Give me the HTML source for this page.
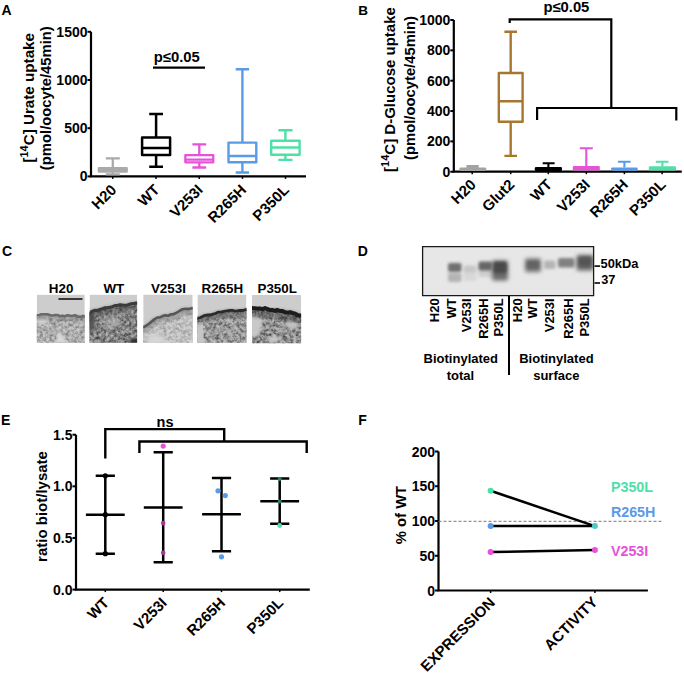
<!DOCTYPE html>
<html><head><meta charset="utf-8"><style>
html,body{margin:0;padding:0;background:#fff;width:684px;height:674px;overflow:hidden}
svg{display:block}
text{font-family:"Liberation Sans", sans-serif}
</style></head><body>
<svg width="684" height="674" viewBox="0 0 684 674">
<rect width="684" height="674" fill="#fff"/>
<defs>
<filter id="tex" x="0" y="0" width="1" height="1" filterUnits="objectBoundingBox" color-interpolation-filters="sRGB">
  <feTurbulence type="fractalNoise" baseFrequency="0.3" numOctaves="3" seed="7" result="n"/>
  <feColorMatrix type="matrix" in="n" result="m" values="0 0 0 0 0  0 0 0 0 0  0 0 0 0 0  2.2 0 0 0 -0.75"/>
  <feComposite in="SourceGraphic" in2="m" operator="in"/>
</filter>
<filter id="texL" x="0" y="0" width="1" height="1" filterUnits="objectBoundingBox" color-interpolation-filters="sRGB">
  <feTurbulence type="fractalNoise" baseFrequency="0.32" numOctaves="3" seed="11" result="n"/>
  <feColorMatrix type="matrix" in="n" result="m" values="0 0 0 0 0  0 0 0 0 0  0 0 0 0 0  2.6 0 0 0 -1.0"/>
  <feComposite in="SourceGraphic" in2="m" operator="in"/>
</filter>
<filter id="b05" x="-5%" y="-5%" width="110%" height="110%"><feGaussianBlur stdDeviation="0.5"/></filter>
<filter id="b06" x="-20%" y="-20%" width="140%" height="140%"><feGaussianBlur stdDeviation="0.6"/></filter>
<filter id="b1" x="-50%" y="-50%" width="200%" height="200%"><feGaussianBlur stdDeviation="1"/></filter>
<filter id="b15" x="-50%" y="-50%" width="200%" height="200%"><feGaussianBlur stdDeviation="1.5"/></filter>
<filter id="b2" x="-50%" y="-50%" width="200%" height="200%"><feGaussianBlur stdDeviation="2"/></filter>
<filter id="b3" x="-50%" y="-50%" width="200%" height="200%"><feGaussianBlur stdDeviation="3"/></filter>
<clipPath id="c0"><rect x="36.8" y="294.6" width="48" height="48.1"/></clipPath>
<clipPath id="c1"><rect x="89.5" y="294.6" width="47.6" height="48.1"/></clipPath>
<clipPath id="c2"><rect x="143.2" y="294.5" width="49.5" height="48.2"/></clipPath>
<clipPath id="c3"><rect x="197.4" y="294.5" width="49.1" height="48.2"/></clipPath>
<clipPath id="c4"><rect x="252" y="295" width="49.1" height="48.2"/></clipPath>
<clipPath id="cb"><rect x="422.6" y="246.6" width="171" height="49"/></clipPath>
</defs>

<text x="1.5" y="14.8" font-size="14" text-anchor="start" font-weight="bold" fill="#000" >A</text>
<path d="M91,31.8V176.4H306" stroke="#000" stroke-width="2.2" fill="none" />
<line x1="87.5" y1="31.8" x2="91" y2="31.8" stroke="#000" stroke-width="2" />
<text x="87.5" y="36.8" font-size="14" text-anchor="end" font-weight="bold" fill="#000" >1500</text>
<line x1="87.5" y1="80.0" x2="91" y2="80.0" stroke="#000" stroke-width="2" />
<text x="87.5" y="85.0" font-size="14" text-anchor="end" font-weight="bold" fill="#000" >1000</text>
<line x1="87.5" y1="128.2" x2="91" y2="128.2" stroke="#000" stroke-width="2" />
<text x="87.5" y="133.2" font-size="14" text-anchor="end" font-weight="bold" fill="#000" >500</text>
<line x1="87.5" y1="176.4" x2="91" y2="176.4" stroke="#000" stroke-width="2" />
<text x="87.5" y="181.4" font-size="14" text-anchor="end" font-weight="bold" fill="#000" >0</text>
<text x="33.8" y="97.9" font-size="15.2" font-weight="bold" text-anchor="middle" transform="rotate(-90 33.8 97.8)">[<tspan font-size="11" dy="-6">14</tspan><tspan dy="6">C] Urate uptake</tspan></text>
<text x="51" y="98.2" font-size="14.8" text-anchor="middle" font-weight="bold" fill="#000" transform="rotate(-90 51 98.2)" >(pmol/oocyte/45min)</text>
<line x1="112.7" y1="176.4" x2="112.7" y2="178.9" stroke="#000" stroke-width="1.5" />
<line x1="156" y1="176.4" x2="156" y2="178.9" stroke="#000" stroke-width="1.5" />
<line x1="199.2" y1="176.4" x2="199.2" y2="178.9" stroke="#000" stroke-width="1.5" />
<line x1="242.5" y1="176.4" x2="242.5" y2="178.9" stroke="#000" stroke-width="1.5" />
<line x1="285.5" y1="176.4" x2="285.5" y2="178.9" stroke="#000" stroke-width="1.5" />
<rect x="98.5" y="168" width="28.6" height="4" fill="#bcbcbc"/>
<path d="M98.85000000000001,168.25H126.74999999999999V171.54999999999998H98.85000000000001Z M98.85000000000001,170H126.74999999999999 M112.8,168.25V158.4 M105.8,158.4H119.8 M112.8,171.54999999999998V174.4 M105.8,174.4H119.8" stroke="#aaaaaa" stroke-width="2.3" fill="none" stroke-linejoin="round"/>
<path d="M142.1,137.55H170.1V154.95H142.1Z M142.1,147.9H170.1 M156.1,137.55V114.1 M149.2,114.1H163.0 M156.1,154.95V166.8 M149.2,166.8H163.0" stroke="#000" stroke-width="2.5" fill="none" stroke-linejoin="round"/>
<path d="M185.35000000000002,155.15H213.25V162.35H185.35000000000002Z M185.35000000000002,159.6H213.25 M199.3,155.15V144.3 M192.4,144.3H206.20000000000002 M199.3,162.35V167.5 M192.4,167.5H206.20000000000002" stroke="#e652d8" stroke-width="2.3" fill="none" stroke-linejoin="round"/>
<path d="M228.5,142.6H256.3V162.20000000000002H228.5Z M228.5,156H256.3 M242.4,142.6V69.2 M235.70000000000002,69.2H249.1 M242.4,162.20000000000002V172.5 M235.70000000000002,172.5H249.1" stroke="#5a9be8" stroke-width="2.4" fill="none" stroke-linejoin="round"/>
<path d="M271.2,140.79999999999998H299.59999999999997V154.8H271.2Z M271.2,147.5H299.59999999999997 M285.4,140.79999999999998V130.3 M278.29999999999995,130.3H292.5 M285.4,154.8V159.9 M278.29999999999995,159.9H292.5" stroke="#4fe0a8" stroke-width="2.4" fill="none" stroke-linejoin="round"/>
<text x="153.8" y="61.6" font-size="14.8" text-anchor="start" font-weight="bold" fill="#000" >p≤0.05</text>
<line x1="153" y1="67.6" x2="205" y2="67.6" stroke="#000" stroke-width="2.2" />
<text x="117.3" y="190.8" font-size="15" text-anchor="end" font-weight="bold" fill="#000" transform="rotate(-45 117.3 190.8)" >H20</text>
<text x="160.6" y="190.8" font-size="15" text-anchor="end" font-weight="bold" fill="#000" transform="rotate(-45 160.6 190.8)" >WT</text>
<text x="203.79999999999998" y="190.8" font-size="15" text-anchor="end" font-weight="bold" fill="#000" transform="rotate(-45 203.79999999999998 190.8)" >V253I</text>
<text x="247.1" y="190.8" font-size="15" text-anchor="end" font-weight="bold" fill="#000" transform="rotate(-45 247.1 190.8)" >R265H</text>
<text x="290.1" y="190.8" font-size="15" text-anchor="end" font-weight="bold" fill="#000" transform="rotate(-45 290.1 190.8)" >P350L</text>
<text x="358.3" y="14.8" font-size="13.5" text-anchor="start" font-weight="bold" fill="#000" >B</text>
<path d="M453.8,20V171.7H681.8" stroke="#000" stroke-width="2.2" fill="none" />
<line x1="450.3" y1="20.0" x2="453.8" y2="20.0" stroke="#000" stroke-width="2" />
<text x="450.3" y="25.0" font-size="14" text-anchor="end" font-weight="bold" fill="#000" >1000</text>
<line x1="450.3" y1="50.35" x2="453.8" y2="50.35" stroke="#000" stroke-width="2" />
<text x="450.3" y="55.35" font-size="14" text-anchor="end" font-weight="bold" fill="#000" >800</text>
<line x1="450.3" y1="80.7" x2="453.8" y2="80.7" stroke="#000" stroke-width="2" />
<text x="450.3" y="85.7" font-size="14" text-anchor="end" font-weight="bold" fill="#000" >600</text>
<line x1="450.3" y1="111.05" x2="453.8" y2="111.05" stroke="#000" stroke-width="2" />
<text x="450.3" y="116.05" font-size="14" text-anchor="end" font-weight="bold" fill="#000" >400</text>
<line x1="450.3" y1="141.4" x2="453.8" y2="141.4" stroke="#000" stroke-width="2" />
<text x="450.3" y="146.4" font-size="14" text-anchor="end" font-weight="bold" fill="#000" >200</text>
<line x1="450.3" y1="171.75" x2="453.8" y2="171.75" stroke="#000" stroke-width="2" />
<text x="450.3" y="176.75" font-size="14" text-anchor="end" font-weight="bold" fill="#000" >0</text>
<text x="395.5" y="89.4" font-size="15" font-weight="bold" text-anchor="middle" transform="rotate(-90 395.5 89.5)">[<tspan font-size="11" dy="-6">14</tspan><tspan dy="6">C] D-Glucose uptake</tspan></text>
<text x="415" y="88" font-size="14.8" text-anchor="middle" font-weight="bold" fill="#000" transform="rotate(-90 415 88)" >(pmol/oocyte/45min)</text>
<line x1="472.2" y1="171.7" x2="472.2" y2="174.2" stroke="#000" stroke-width="1.5" />
<line x1="510.7" y1="171.7" x2="510.7" y2="174.2" stroke="#000" stroke-width="1.5" />
<line x1="548.3" y1="171.7" x2="548.3" y2="174.2" stroke="#000" stroke-width="1.5" />
<line x1="586.3" y1="171.7" x2="586.3" y2="174.2" stroke="#000" stroke-width="1.5" />
<line x1="624.4" y1="171.7" x2="624.4" y2="174.2" stroke="#000" stroke-width="1.5" />
<line x1="662.1" y1="171.7" x2="662.1" y2="174.2" stroke="#000" stroke-width="1.5" />
<rect x="459.4" y="167.4" width="26.8" height="3.6" rx="1.2" fill="#a3a3a3"/>
<path d="M472.8,167.4V166.4 M466.4,166.4H478.7" stroke="#a3a3a3" stroke-width="3" fill="none" />
<path d="M498.79999999999995,73.0H522.5999999999999V121.7H498.79999999999995Z M498.79999999999995,101.2H522.5999999999999 M510.7,73.0V31.8 M504.4,31.8H517.0 M510.7,121.7V155.9 M504.4,155.9H517.0" stroke="#a8772f" stroke-width="2.4" fill="none" stroke-linejoin="round"/>
<rect x="534.8" y="167" width="27.2" height="4" rx="1.2" fill="#000"/>
<path d="M548.4,167V163.2 M542.7,163.2H554.6" stroke="#000" stroke-width="2.1" fill="none" />
<rect x="572.8" y="165.9" width="27.0" height="4.5" rx="1.2" fill="#e652d8"/>
<path d="M586.3,165.9V148.3 M579.8,148.3H592.8" stroke="#e652d8" stroke-width="2.1" fill="none" />
<rect x="611.1" y="167.6" width="26.6" height="3.2" rx="1.2" fill="#5a9be8"/>
<path d="M624.4,167.6V161.7 M618,161.7H630.7" stroke="#5a9be8" stroke-width="2.1" fill="none" />
<rect x="648.8" y="166.2" width="27.2" height="4.2" rx="1.2" fill="#4fe0a8"/>
<path d="M662.4,166.2V161.7 M655.8,161.7H668.5" stroke="#4fe0a8" stroke-width="2.1" fill="none" />
<path d="M509.7,22.9V19.3H611.3V108" stroke="#000" stroke-width="2.2" fill="none" />
<path d="M537.1,120V108H676.3V120.4" stroke="#000" stroke-width="2.2" fill="none" />
<text x="543.4" y="12" font-size="14.8" text-anchor="start" font-weight="bold" fill="#000" >p≤0.05</text>
<text x="476.8" y="185.5" font-size="15" text-anchor="end" font-weight="bold" fill="#000" transform="rotate(-45 476.8 185.5)" >H20</text>
<text x="515.3" y="185.5" font-size="15" text-anchor="end" font-weight="bold" fill="#000" transform="rotate(-45 515.3 185.5)" >Glut2</text>
<text x="552.9" y="185.5" font-size="15" text-anchor="end" font-weight="bold" fill="#000" transform="rotate(-45 552.9 185.5)" >WT</text>
<text x="590.9" y="185.5" font-size="15" text-anchor="end" font-weight="bold" fill="#000" transform="rotate(-45 590.9 185.5)" >V253I</text>
<text x="629.0" y="185.5" font-size="15" text-anchor="end" font-weight="bold" fill="#000" transform="rotate(-45 629.0 185.5)" >R265H</text>
<text x="666.7" y="185.5" font-size="15" text-anchor="end" font-weight="bold" fill="#000" transform="rotate(-45 666.7 185.5)" >P350L</text>
<text x="2" y="256.2" font-size="14" text-anchor="start" font-weight="bold" fill="#000" >C</text>
<g filter="url(#b05)"><g clip-path="url(#c0)">
<rect x="36.8" y="294.6" width="48" height="48.1" fill="#cdcdcd"/>
<path d="M34.0,314.4 L36.8,315.3 L39.5,314.9 L42.2,313.9 L45.0,314.0 L47.5,314.3 L50.0,315.0 L52.5,315.6 L55.0,314.9 L57.5,314.9 L60.0,316.3 L62.5,315.8 L65.0,316.4 L67.5,315.1 L70.0,315.7 L72.5,316.0 L75.0,315.1 L77.8,316.6 L80.5,316.9 L83.2,315.9 L86,317 L86.8,344.70000000000005 L34.8,344.70000000000005Z" fill="#bdbdbd"/>
<path d="M34.0,314.4 L36.8,315.3 L39.5,314.9 L42.2,313.9 L45.0,314.0 L47.5,314.3 L50.0,315.0 L52.5,315.6 L55.0,314.9 L57.5,314.9 L60.0,316.3 L62.5,315.8 L65.0,316.4 L67.5,315.1 L70.0,315.7 L72.5,316.0 L75.0,315.1 L77.8,316.6 L80.5,316.9 L83.2,315.9 L86,317 L86.8,344.70000000000005 L34.8,344.70000000000005Z" fill="#404040" opacity="0.6" filter="url(#tex)"/>
<path d="M34.0,314.4 L36.8,315.3 L39.5,314.9 L42.2,313.9 L45.0,314.0 L47.5,314.3 L50.0,315.0 L52.5,315.6 L55.0,314.9 L57.5,314.9 L60.0,316.3 L62.5,315.8 L65.0,316.4 L67.5,315.1 L70.0,315.7 L72.5,316.0 L75.0,315.1 L77.8,316.6 L80.5,316.9 L83.2,315.9 L86,317 L86.8,344.70000000000005 L34.8,344.70000000000005Z" fill="#e4e4e4" opacity="0.5" filter="url(#texL)"/>
<ellipse cx="42" cy="321" rx="6" ry="3" fill="#d0d0d0" filter="url(#b1)"/><path d="M55,343 L60,330 L66,343Z" fill="#d8d8d8" filter="url(#b1)"/>
<path d="M34.0,314.4 L36.8,315.3 L39.5,314.9 L42.2,313.9 L45.0,314.0 L47.5,314.3 L50.0,315.0 L52.5,315.6 L55.0,314.9 L57.5,314.9 L60.0,316.3 L62.5,315.8 L65.0,316.4 L67.5,315.1 L70.0,315.7 L72.5,316.0 L75.0,315.1 L77.8,316.6 L80.5,316.9 L83.2,315.9 L86,317" stroke="#6a6a6a" stroke-width="6.5" opacity="0.35" fill="none" transform="translate(0,2.25)" filter="url(#b15)"/>
<path d="M34.0,314.4 L36.8,315.3 L39.5,314.9 L42.2,313.9 L45.0,314.0 L47.5,314.3 L50.0,315.0 L52.5,315.6 L55.0,314.9 L57.5,314.9 L60.0,316.3 L62.5,315.8 L65.0,316.4 L67.5,315.1 L70.0,315.7 L72.5,316.0 L75.0,315.1 L77.8,316.6 L80.5,316.9 L83.2,315.9 L86,317" stroke="#6a6a6a" stroke-width="2.5" fill="none" stroke-linejoin="round" filter="url(#b06)"/>
</g></g>
<g filter="url(#b05)"><g clip-path="url(#c1)">
<rect x="89.5" y="294.6" width="47.6" height="48.1" fill="#cdcdcd"/>
<path d="M87.0,314.7 L89.5,313.7 L92.0,311.3 L94.7,310.3 L97.3,310.5 L100.0,309.4 L102.5,308.8 L105.0,307.7 L107.5,307.7 L110.0,307.2 L112.5,306.6 L115.0,305.5 L117.5,305.4 L120.0,304.8 L122.5,305.1 L125.0,305.3 L127.5,305.0 L130.0,304.1 L133.0,303.6 L136.0,303.0 L139,303 L139.1,344.70000000000005 L87.5,344.70000000000005Z" fill="#8c8c8c"/>
<path d="M87.0,314.7 L89.5,313.7 L92.0,311.3 L94.7,310.3 L97.3,310.5 L100.0,309.4 L102.5,308.8 L105.0,307.7 L107.5,307.7 L110.0,307.2 L112.5,306.6 L115.0,305.5 L117.5,305.4 L120.0,304.8 L122.5,305.1 L125.0,305.3 L127.5,305.0 L130.0,304.1 L133.0,303.6 L136.0,303.0 L139,303 L139.1,344.70000000000005 L87.5,344.70000000000005Z" fill="#202020" opacity="0.72" filter="url(#tex)"/>
<path d="M87.0,314.7 L89.5,313.7 L92.0,311.3 L94.7,310.3 L97.3,310.5 L100.0,309.4 L102.5,308.8 L105.0,307.7 L107.5,307.7 L110.0,307.2 L112.5,306.6 L115.0,305.5 L117.5,305.4 L120.0,304.8 L122.5,305.1 L125.0,305.3 L127.5,305.0 L130.0,304.1 L133.0,303.6 L136.0,303.0 L139,303 L139.1,344.70000000000005 L87.5,344.70000000000005Z" fill="#e4e4e4" opacity="0.5" filter="url(#texL)"/>
<ellipse cx="135" cy="341" rx="5" ry="3" fill="#303030" filter="url(#b1)"/><ellipse cx="91" cy="322" rx="4" ry="10" fill="#555" filter="url(#b15)"/><ellipse cx="112" cy="322" rx="8" ry="5" fill="#c4c4c4" opacity="0.6" filter="url(#b2)"/>
<path d="M87.0,314.7 L89.5,313.7 L92.0,311.3 L94.7,310.3 L97.3,310.5 L100.0,309.4 L102.5,308.8 L105.0,307.7 L107.5,307.7 L110.0,307.2 L112.5,306.6 L115.0,305.5 L117.5,305.4 L120.0,304.8 L122.5,305.1 L125.0,305.3 L127.5,305.0 L130.0,304.1 L133.0,303.6 L136.0,303.0 L139,303" stroke="#3a3a3a" stroke-width="7.800000000000001" opacity="0.35" fill="none" transform="translate(0,2.7)" filter="url(#b15)"/>
<path d="M87.0,314.7 L89.5,313.7 L92.0,311.3 L94.7,310.3 L97.3,310.5 L100.0,309.4 L102.5,308.8 L105.0,307.7 L107.5,307.7 L110.0,307.2 L112.5,306.6 L115.0,305.5 L117.5,305.4 L120.0,304.8 L122.5,305.1 L125.0,305.3 L127.5,305.0 L130.0,304.1 L133.0,303.6 L136.0,303.0 L139,303" stroke="#3a3a3a" stroke-width="3" fill="none" stroke-linejoin="round" filter="url(#b06)"/>
</g></g>
<g filter="url(#b05)"><g clip-path="url(#c2)">
<rect x="143.2" y="294.5" width="49.5" height="48.2" fill="#cdcdcd"/>
<path d="M141.0,327.6 L143.5,327.1 L146.0,325.8 L149.0,323.7 L152.0,321.2 L154.7,319.0 L157.3,317.6 L160.0,317.5 L162.7,315.9 L165.3,315.2 L168.0,315.8 L170.7,314.3 L173.3,314.2 L176.0,313.0 L179.0,311.2 L182.5,309.2 L186.0,308.7 L189.0,308.9 L192.0,308.2 L195,308 L194.7,344.7 L141.2,344.7Z" fill="#cbcbcb"/>
<path d="M141.0,327.6 L143.5,327.1 L146.0,325.8 L149.0,323.7 L152.0,321.2 L154.7,319.0 L157.3,317.6 L160.0,317.5 L162.7,315.9 L165.3,315.2 L168.0,315.8 L170.7,314.3 L173.3,314.2 L176.0,313.0 L179.0,311.2 L182.5,309.2 L186.0,308.7 L189.0,308.9 L192.0,308.2 L195,308 L194.7,344.7 L141.2,344.7Z" fill="#505050" opacity="0.45" filter="url(#tex)"/>
<path d="M141.0,327.6 L143.5,327.1 L146.0,325.8 L149.0,323.7 L152.0,321.2 L154.7,319.0 L157.3,317.6 L160.0,317.5 L162.7,315.9 L165.3,315.2 L168.0,315.8 L170.7,314.3 L173.3,314.2 L176.0,313.0 L179.0,311.2 L182.5,309.2 L186.0,308.7 L189.0,308.9 L192.0,308.2 L195,308 L194.7,344.7 L141.2,344.7Z" fill="#e4e4e4" opacity="0.5" filter="url(#texL)"/>
<ellipse cx="155" cy="340" rx="9" ry="6" fill="#d6d6d6" filter="url(#b2)"/>
<path d="M141.0,327.6 L143.5,327.1 L146.0,325.8 L149.0,323.7 L152.0,321.2 L154.7,319.0 L157.3,317.6 L160.0,317.5 L162.7,315.9 L165.3,315.2 L168.0,315.8 L170.7,314.3 L173.3,314.2 L176.0,313.0 L179.0,311.2 L182.5,309.2 L186.0,308.7 L189.0,308.9 L192.0,308.2 L195,308" stroke="#555" stroke-width="6.5" opacity="0.35" fill="none" transform="translate(0,2.25)" filter="url(#b15)"/>
<path d="M141.0,327.6 L143.5,327.1 L146.0,325.8 L149.0,323.7 L152.0,321.2 L154.7,319.0 L157.3,317.6 L160.0,317.5 L162.7,315.9 L165.3,315.2 L168.0,315.8 L170.7,314.3 L173.3,314.2 L176.0,313.0 L179.0,311.2 L182.5,309.2 L186.0,308.7 L189.0,308.9 L192.0,308.2 L195,308" stroke="#555" stroke-width="2.5" fill="none" stroke-linejoin="round" filter="url(#b06)"/>
</g></g>
<g filter="url(#b05)"><g clip-path="url(#c3)">
<rect x="197.4" y="294.5" width="49.1" height="48.2" fill="#cdcdcd"/>
<path d="M195.0,319.1 L197.5,318.1 L200.0,317.8 L202.7,316.4 L205.3,315.3 L208.0,314.8 L210.5,315.0 L213.0,314.2 L215.5,313.5 L218.0,312.1 L221.0,312.2 L224.0,311.4 L227.0,310.9 L230.0,310.4 L232.5,310.3 L235.0,311.2 L237.5,310.8 L240.0,310.5 L243.0,310.5 L246.0,309.5 L249,310 L248.5,344.7 L195.4,344.7Z" fill="#ababab"/>
<path d="M195.0,319.1 L197.5,318.1 L200.0,317.8 L202.7,316.4 L205.3,315.3 L208.0,314.8 L210.5,315.0 L213.0,314.2 L215.5,313.5 L218.0,312.1 L221.0,312.2 L224.0,311.4 L227.0,310.9 L230.0,310.4 L232.5,310.3 L235.0,311.2 L237.5,310.8 L240.0,310.5 L243.0,310.5 L246.0,309.5 L249,310 L248.5,344.7 L195.4,344.7Z" fill="#282828" opacity="0.7" filter="url(#tex)"/>
<path d="M195.0,319.1 L197.5,318.1 L200.0,317.8 L202.7,316.4 L205.3,315.3 L208.0,314.8 L210.5,315.0 L213.0,314.2 L215.5,313.5 L218.0,312.1 L221.0,312.2 L224.0,311.4 L227.0,310.9 L230.0,310.4 L232.5,310.3 L235.0,311.2 L237.5,310.8 L240.0,310.5 L243.0,310.5 L246.0,309.5 L249,310 L248.5,344.7 L195.4,344.7Z" fill="#e4e4e4" opacity="0.5" filter="url(#texL)"/>
<path d="M196,322 L203,322 L204,345 L196,345Z" fill="#c6c6c6" filter="url(#b06)"/>
<path d="M195.0,319.1 L197.5,318.1 L200.0,317.8 L202.7,316.4 L205.3,315.3 L208.0,314.8 L210.5,315.0 L213.0,314.2 L215.5,313.5 L218.0,312.1 L221.0,312.2 L224.0,311.4 L227.0,310.9 L230.0,310.4 L232.5,310.3 L235.0,311.2 L237.5,310.8 L240.0,310.5 L243.0,310.5 L246.0,309.5 L249,310" stroke="#2a2a2a" stroke-width="7.279999999999999" opacity="0.35" fill="none" transform="translate(0,2.52)" filter="url(#b15)"/>
<path d="M195.0,319.1 L197.5,318.1 L200.0,317.8 L202.7,316.4 L205.3,315.3 L208.0,314.8 L210.5,315.0 L213.0,314.2 L215.5,313.5 L218.0,312.1 L221.0,312.2 L224.0,311.4 L227.0,310.9 L230.0,310.4 L232.5,310.3 L235.0,311.2 L237.5,310.8 L240.0,310.5 L243.0,310.5 L246.0,309.5 L249,310" stroke="#2a2a2a" stroke-width="2.8" fill="none" stroke-linejoin="round" filter="url(#b06)"/>
</g></g>
<g filter="url(#b05)"><g clip-path="url(#c4)">
<rect x="252" y="295" width="49.1" height="48.2" fill="#cdcdcd"/>
<path d="M250.0,307.7 L252.5,308.0 L255.0,308.2 L257.5,308.6 L260.0,308.4 L262.5,309.1 L265.0,308.0 L267.5,309.1 L270.0,310.2 L272.5,310.1 L275.0,310.9 L277.5,310.0 L280.0,311.0 L282.5,311.1 L285.0,312.1 L287.5,312.6 L290.0,312.2 L292.6,313.0 L295.2,313.6 L297.8,315.2 L300.4,315.4 L303,315.5 L303.1,345.2 L250,345.2Z" fill="#a2a2a2"/>
<path d="M250.0,307.7 L252.5,308.0 L255.0,308.2 L257.5,308.6 L260.0,308.4 L262.5,309.1 L265.0,308.0 L267.5,309.1 L270.0,310.2 L272.5,310.1 L275.0,310.9 L277.5,310.0 L280.0,311.0 L282.5,311.1 L285.0,312.1 L287.5,312.6 L290.0,312.2 L292.6,313.0 L295.2,313.6 L297.8,315.2 L300.4,315.4 L303,315.5 L303.1,345.2 L250,345.2Z" fill="#1a1a1a" opacity="0.72" filter="url(#tex)"/>
<path d="M250.0,307.7 L252.5,308.0 L255.0,308.2 L257.5,308.6 L260.0,308.4 L262.5,309.1 L265.0,308.0 L267.5,309.1 L270.0,310.2 L272.5,310.1 L275.0,310.9 L277.5,310.0 L280.0,311.0 L282.5,311.1 L285.0,312.1 L287.5,312.6 L290.0,312.2 L292.6,313.0 L295.2,313.6 L297.8,315.2 L300.4,315.4 L303,315.5 L303.1,345.2 L250,345.2Z" fill="#e4e4e4" opacity="0.5" filter="url(#texL)"/>
<path d="M250,316 Q258,314 262,320 Q262,330 257,336 L250,337Z" fill="#c8c8c8" filter="url(#b1)"/><ellipse cx="292" cy="325" rx="6" ry="4" fill="#c0c0c0" filter="url(#b1)"/><ellipse cx="274" cy="339" rx="5" ry="3.5" fill="#c4c4c4" filter="url(#b1)"/><path d="M275,311 L273,322" stroke="#c8c8c8" stroke-width="1.5" filter="url(#b06)"/>
<path d="M250.0,307.7 L252.5,308.0 L255.0,308.2 L257.5,308.6 L260.0,308.4 L262.5,309.1 L265.0,308.0 L267.5,309.1 L270.0,310.2 L272.5,310.1 L275.0,310.9 L277.5,310.0 L280.0,311.0 L282.5,311.1 L285.0,312.1 L287.5,312.6 L290.0,312.2 L292.6,313.0 L295.2,313.6 L297.8,315.2 L300.4,315.4 L303,315.5" stroke="#1a1a1a" stroke-width="10.4" opacity="0.35" fill="none" transform="translate(0,3.6)" filter="url(#b15)"/>
<path d="M250.0,307.7 L252.5,308.0 L255.0,308.2 L257.5,308.6 L260.0,308.4 L262.5,309.1 L265.0,308.0 L267.5,309.1 L270.0,310.2 L272.5,310.1 L275.0,310.9 L277.5,310.0 L280.0,311.0 L282.5,311.1 L285.0,312.1 L287.5,312.6 L290.0,312.2 L292.6,313.0 L295.2,313.6 L297.8,315.2 L300.4,315.4 L303,315.5" stroke="#1a1a1a" stroke-width="4" fill="none" stroke-linejoin="round" filter="url(#b06)"/>
</g></g>
<text x="61.15" y="293.2" font-size="13.4" text-anchor="middle" font-weight="bold" fill="#000" >H20</text>
<text x="113.85" y="293.2" font-size="13.4" text-anchor="middle" font-weight="bold" fill="#000" >WT</text>
<text x="168.45" y="293.2" font-size="13.4" text-anchor="middle" font-weight="bold" fill="#000" >V253I</text>
<text x="222.35" y="293.2" font-size="13.4" text-anchor="middle" font-weight="bold" fill="#000" >R265H</text>
<text x="277.2" y="293.2" font-size="13.4" text-anchor="middle" font-weight="bold" fill="#000" >P350L</text>
<line x1="58.4" y1="299" x2="82.5" y2="299" stroke="#111" stroke-width="1.6" />
<text x="357.8" y="256.2" font-size="14" text-anchor="start" font-weight="bold" fill="#000" >D</text>
<g clip-path="url(#cb)">
<rect x="422.6" y="246.6" width="171" height="49" fill="#e7e7e7"/>
<rect x="448" y="273" width="13.5" height="9" rx="2" fill="#b4b4b4" opacity="1" filter="url(#b15)"/>
<rect x="448" y="263" width="13.5" height="9" rx="2" fill="#707070" opacity="1" filter="url(#b15)"/>
<rect x="463.5" y="272.5" width="13.0" height="8.5" rx="2" fill="#d8d8d8" opacity="1" filter="url(#b15)"/>
<rect x="463.5" y="265.5" width="13.0" height="7.5" rx="2" fill="#c8c8c8" opacity="1" filter="url(#b15)"/>
<rect x="478.5" y="268.5" width="14.0" height="8.5" rx="2" fill="#cfcfcf" opacity="1" filter="url(#b15)"/>
<rect x="478.5" y="261.5" width="14.0" height="9.0" rx="2" fill="#666" opacity="1" filter="url(#b15)"/>
<rect x="492" y="260.5" width="16" height="20.0" rx="2" fill="#686868" opacity="1" filter="url(#b2)"/>
<rect x="493.5" y="262" width="13.0" height="11" rx="2" fill="#484848" opacity="1" filter="url(#b15)"/>
<rect x="525" y="258.5" width="16" height="13.5" rx="2" fill="#707070" opacity="1" filter="url(#b2)"/>
<rect x="527" y="261" width="12" height="7" rx="2" fill="#5a5a5a" opacity="0.6" filter="url(#b15)"/>
<rect x="544" y="260.5" width="11.5" height="8.5" rx="2" fill="#b4b4b4" opacity="1" filter="url(#b15)"/>
<rect x="558" y="258" width="16.5" height="9.5" rx="2" fill="#808080" opacity="1" filter="url(#b15)"/>
<rect x="576.5" y="255" width="17.0" height="15.5" rx="2" fill="#646464" opacity="1" filter="url(#b2)"/>
<rect x="578.5" y="257" width="13.0" height="9" rx="2" fill="#505050" opacity="0.7" filter="url(#b15)"/>
</g>
<path d="M422.6,246.6H593.6V295.6H422.6Z" stroke="#1a1a1a" stroke-width="1.3" fill="none" />
<line x1="594.5" y1="266.1" x2="600" y2="266.1" stroke="#000" stroke-width="1.6" />
<line x1="594.5" y1="283" x2="600" y2="283" stroke="#000" stroke-width="1.6" />
<text x="600.5" y="268.2" font-size="13.5" text-anchor="start" font-weight="bold" fill="#000" textLength="38" lengthAdjust="spacingAndGlyphs">50kDa</text>
<text x="601.2" y="284.4" font-size="13.5" text-anchor="start" font-weight="bold" fill="#000" textLength="14.2" lengthAdjust="spacingAndGlyphs">37</text>
<text x="438.7" y="298.3" font-size="13" text-anchor="end" font-weight="bold" fill="#000" transform="rotate(-90 438.7 298.3)" >H20</text>
<text x="456.2" y="298.3" font-size="13" text-anchor="end" font-weight="bold" fill="#000" transform="rotate(-90 456.2 298.3)" >WT</text>
<text x="471.2" y="298.3" font-size="13" text-anchor="end" font-weight="bold" fill="#000" transform="rotate(-90 471.2 298.3)" >V253I</text>
<text x="487.8" y="298.3" font-size="13" text-anchor="end" font-weight="bold" fill="#000" transform="rotate(-90 487.8 298.3)" >R265H</text>
<text x="503.4" y="298.3" font-size="13" text-anchor="end" font-weight="bold" fill="#000" transform="rotate(-90 503.4 298.3)" >P350L</text>
<text x="522.0" y="298.3" font-size="13" text-anchor="end" font-weight="bold" fill="#000" transform="rotate(-90 522.0 298.3)" >H20</text>
<text x="537.3" y="298.3" font-size="13" text-anchor="end" font-weight="bold" fill="#000" transform="rotate(-90 537.3 298.3)" >WT</text>
<text x="553.9" y="298.3" font-size="13" text-anchor="end" font-weight="bold" fill="#000" transform="rotate(-90 553.9 298.3)" >V253I</text>
<text x="572.8" y="298.3" font-size="13" text-anchor="end" font-weight="bold" fill="#000" transform="rotate(-90 572.8 298.3)" >R265H</text>
<text x="589.5" y="298.3" font-size="13" text-anchor="end" font-weight="bold" fill="#000" transform="rotate(-90 589.5 298.3)" >P350L</text>
<line x1="509" y1="296" x2="509" y2="375" stroke="#000" stroke-width="2" />
<text x="460.8" y="362.8" font-size="13" text-anchor="middle" font-weight="bold" fill="#000" >Biotinylated</text>
<text x="460.5" y="380.3" font-size="13" text-anchor="middle" font-weight="bold" fill="#000" >total</text>
<text x="556.4" y="362.8" font-size="13" text-anchor="middle" font-weight="bold" fill="#000" >Biotinylated</text>
<text x="556.3" y="380.3" font-size="13" text-anchor="middle" font-weight="bold" fill="#000" >surface</text>
<text x="1.0" y="425.1" font-size="14" text-anchor="start" font-weight="bold" fill="#000" >E</text>
<path d="M76,434.7V589.6H309.8" stroke="#000" stroke-width="2.2" fill="none" />
<line x1="72.5" y1="434.7" x2="76" y2="434.7" stroke="#000" stroke-width="2" />
<text x="72.5" y="439.7" font-size="14" text-anchor="end" font-weight="bold" fill="#000" >1.5</text>
<line x1="72.5" y1="486.33" x2="76" y2="486.33" stroke="#000" stroke-width="2" />
<text x="72.5" y="491.33" font-size="14" text-anchor="end" font-weight="bold" fill="#000" >1.0</text>
<line x1="72.5" y1="537.96" x2="76" y2="537.96" stroke="#000" stroke-width="2" />
<text x="72.5" y="542.96" font-size="14" text-anchor="end" font-weight="bold" fill="#000" >0.5</text>
<line x1="72.5" y1="589.59" x2="76" y2="589.59" stroke="#000" stroke-width="2" />
<text x="72.5" y="594.59" font-size="14" text-anchor="end" font-weight="bold" fill="#000" >0.0</text>
<text x="47" y="506.5" font-size="15" text-anchor="middle" font-weight="bold" fill="#000" transform="rotate(-90 47 506.5)" >ratio biot/lysate</text>
<line x1="105.3" y1="589.6" x2="105.3" y2="592.1" stroke="#000" stroke-width="1.5" />
<line x1="163.2" y1="589.6" x2="163.2" y2="592.1" stroke="#000" stroke-width="1.5" />
<line x1="221.5" y1="589.6" x2="221.5" y2="592.1" stroke="#000" stroke-width="1.5" />
<line x1="279.7" y1="589.6" x2="279.7" y2="592.1" stroke="#000" stroke-width="1.5" />
<path d="M105.3,475.8V553.7 M95.7,475.8H114.9 M95.7,553.7H114.9 M85.9,514.7H124.7" stroke="#000" stroke-width="2.5" fill="none" />
<path d="M163.2,452.3V562.2 M153.6,452.3H172.8 M153.6,562.2H172.8 M143.8,507.4H182.6" stroke="#000" stroke-width="2.5" fill="none" />
<path d="M221.5,477.9V551.2 M211.9,477.9H231.1 M211.9,551.2H231.1 M202.1,514.2H240.9" stroke="#000" stroke-width="2.5" fill="none" />
<path d="M279.7,478.5V523.7 M270.1,478.5H289.3 M270.1,523.7H289.3 M260.3,501.2H299.1" stroke="#000" stroke-width="2.5" fill="none" />
<circle cx="105.3" cy="475.8" r="2.6" fill="#000"/>
<circle cx="105.3" cy="514.7" r="2.6" fill="#000"/>
<circle cx="105.3" cy="553.7" r="2.6" fill="#000"/>
<circle cx="163.2" cy="446.1" r="2.6" fill="#e652d8"/>
<circle cx="163.2" cy="523.1" r="2.3" fill="#a8389a"/>
<circle cx="163.2" cy="552.8" r="2.3" fill="#a8389a"/>
<circle cx="218" cy="490.8" r="2.6" fill="#5a9be8"/>
<circle cx="225.3" cy="495.6" r="2.6" fill="#5a9be8"/>
<circle cx="221.5" cy="556.8" r="2.6" fill="#5a9be8"/>
<circle cx="279.7" cy="479" r="2" fill="#2f8060"/>
<circle cx="279.7" cy="501.5" r="2" fill="#2f8060"/>
<circle cx="279.7" cy="525.5" r="2.4" fill="#4fe0a8"/>
<path d="M105.3,458.6V429.1H224.2V441.5" stroke="#000" stroke-width="2.4" fill="none" />
<path d="M139.4,453V441.5H306.7V453" stroke="#000" stroke-width="2.4" fill="none" />
<text x="165" y="427" font-size="14.5" text-anchor="middle" font-weight="bold" fill="#000" >ns</text>
<text x="109.9" y="603.8" font-size="15" text-anchor="end" font-weight="bold" fill="#000" transform="rotate(-45 109.9 603.8)" >WT</text>
<text x="167.8" y="603.8" font-size="15" text-anchor="end" font-weight="bold" fill="#000" transform="rotate(-45 167.8 603.8)" >V253I</text>
<text x="226.1" y="603.8" font-size="15" text-anchor="end" font-weight="bold" fill="#000" transform="rotate(-45 226.1 603.8)" >R265H</text>
<text x="284.3" y="603.8" font-size="15" text-anchor="end" font-weight="bold" fill="#000" transform="rotate(-45 284.3 603.8)" >P350L</text>
<text x="358.3" y="425.3" font-size="14" text-anchor="start" font-weight="bold" fill="#000" >F</text>
<path d="M438.5,451.5V590.5H647.9" stroke="#000" stroke-width="2.2" fill="none" />
<line x1="435.0" y1="451.5" x2="438.5" y2="451.5" stroke="#000" stroke-width="2" />
<text x="435.0" y="456.5" font-size="14" text-anchor="end" font-weight="bold" fill="#000" >200</text>
<line x1="435.0" y1="486.25" x2="438.5" y2="486.25" stroke="#000" stroke-width="2" />
<text x="435.0" y="491.25" font-size="14" text-anchor="end" font-weight="bold" fill="#000" >150</text>
<line x1="435.0" y1="521.0" x2="438.5" y2="521.0" stroke="#000" stroke-width="2" />
<text x="435.0" y="526.0" font-size="14" text-anchor="end" font-weight="bold" fill="#000" >100</text>
<line x1="435.0" y1="555.75" x2="438.5" y2="555.75" stroke="#000" stroke-width="2" />
<text x="435.0" y="560.75" font-size="14" text-anchor="end" font-weight="bold" fill="#000" >50</text>
<line x1="435.0" y1="590.5" x2="438.5" y2="590.5" stroke="#000" stroke-width="2" />
<text x="435.0" y="595.5" font-size="14" text-anchor="end" font-weight="bold" fill="#000" >0</text>
<line x1="438.5" y1="521.3" x2="661.4" y2="521.3" stroke="#777" stroke-width="1" stroke-dasharray="3,2"/>
<text x="406" y="515" font-size="14.8" text-anchor="middle" font-weight="bold" fill="#000" transform="rotate(-90 406 515)" >% of WT</text>
<line x1="490.6" y1="590.5" x2="490.6" y2="593.0" stroke="#000" stroke-width="1.5" />
<line x1="594.9" y1="590.5" x2="594.9" y2="593.0" stroke="#000" stroke-width="1.5" />
<line x1="490.6" y1="490.8" x2="594.9" y2="526.1" stroke="#000" stroke-width="2.5" />
<line x1="490.6" y1="526.1" x2="594.9" y2="526.1" stroke="#000" stroke-width="2.5" />
<line x1="490.6" y1="552.1" x2="594.9" y2="550" stroke="#000" stroke-width="2.5" />
<circle cx="490.6" cy="490.8" r="3" fill="#4fe0a8"/>
<circle cx="490.6" cy="526.1" r="3" fill="#5a9be8"/>
<circle cx="490.6" cy="552.1" r="3" fill="#e652d8"/>
<circle cx="594.9" cy="526.1" r="3" fill="#4fc8c8"/>
<circle cx="594.9" cy="550" r="3" fill="#e652d8"/>
<text x="610.9" y="491.8" font-size="14.3" text-anchor="start" font-weight="bold" fill="#4fe0a8" >P350L</text>
<text x="610.9" y="516.7" font-size="14.3" text-anchor="start" font-weight="bold" fill="#5a9be8" >R265H</text>
<text x="610.9" y="555.6" font-size="14.3" text-anchor="start" font-weight="bold" fill="#e652d8" >V253I</text>
<text x="495.8" y="603.5" font-size="15" text-anchor="end" font-weight="bold" fill="#000" transform="rotate(-45 495.8 603.5)" >EXPRESSION</text>
<text x="598.5" y="603" font-size="15" text-anchor="end" font-weight="bold" fill="#000" transform="rotate(-45 598.5 603)" >ACTIVITY</text>
</svg>
</body></html>
